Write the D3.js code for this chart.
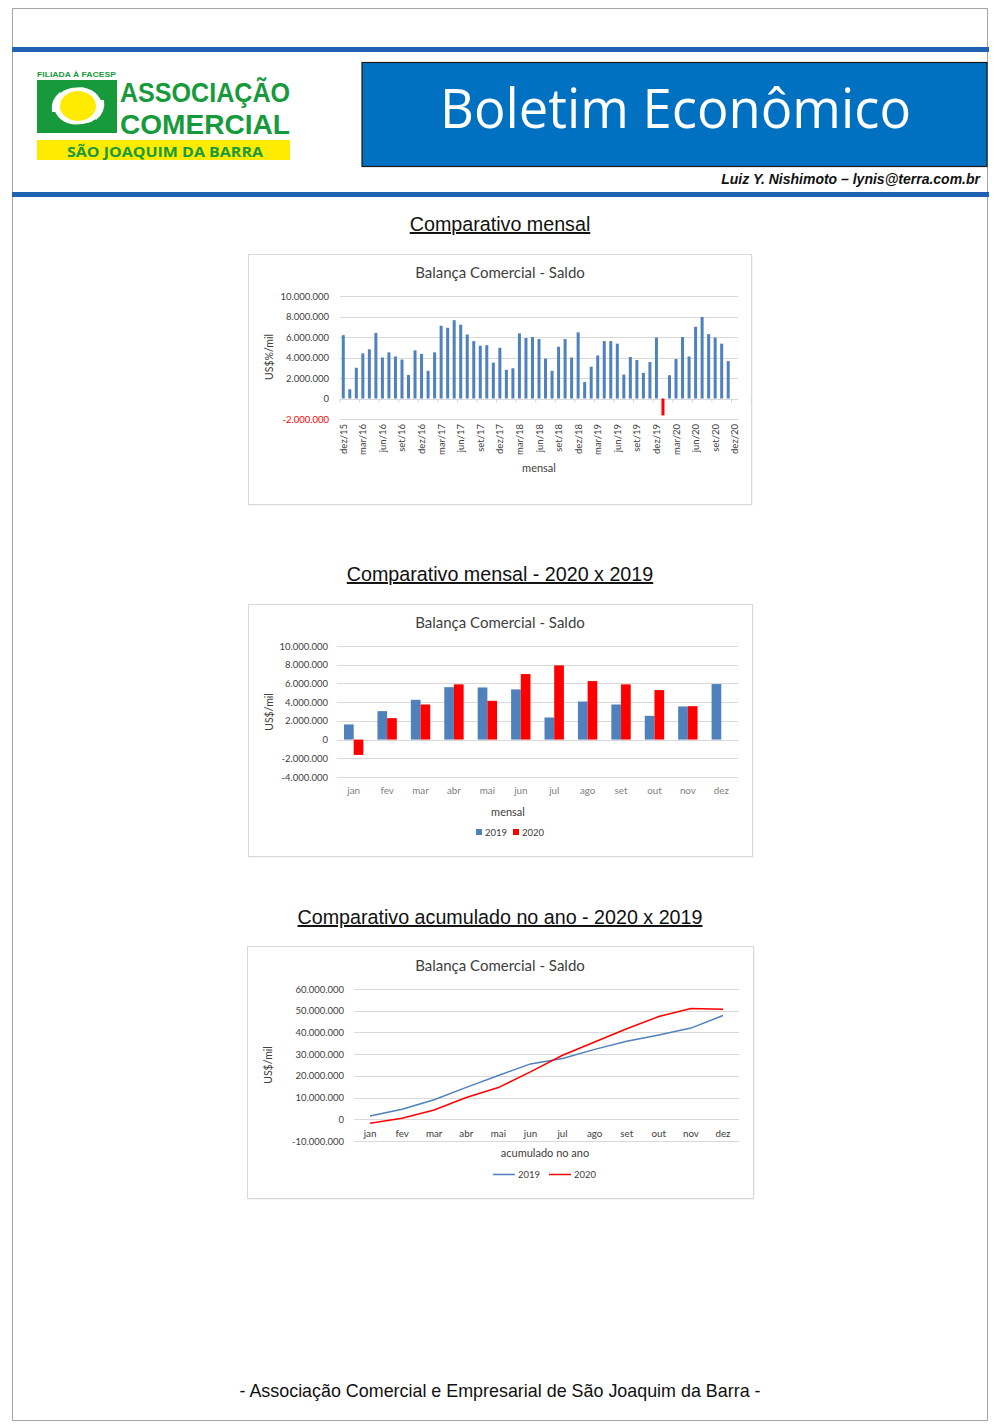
<!DOCTYPE html>
<html><head><meta charset="utf-8">
<script src="https://cdn.jsdelivr.net/npm/d3@7"></script>
<style>
body{margin:0;background:#fff;}
svg{display:block;}
</style></head>
<body>
<svg id="page" width="1000" height="1427"></svg>
<script>
// ---------- DATA ----------
const monthlyCategories = ["dez/15","jan/16","fev/16","mar/16","abr/16","mai/16","jun/16","jul/16","ago/16","set/16","out/16","nov/16","dez/16",
"jan/17","fev/17","mar/17","abr/17","mai/17","jun/17","jul/17","ago/17","set/17","out/17","nov/17","dez/17",
"jan/18","fev/18","mar/18","abr/18","mai/18","jun/18","jul/18","ago/18","set/18","out/18","nov/18","dez/18",
"jan/19","fev/19","mar/19","abr/19","mai/19","jun/19","jul/19","ago/19","set/19","out/19","nov/19","dez/19",
"jan/20","fev/20","mar/20","abr/20","mai/20","jun/20","jul/20","ago/20","set/20","out/20","nov/20","dez/20"];
const monthlySaldo = [6180000,
 900000,3000000,4400000,4800000,6400000,4000000,4500000,4100000,3800000,2300000,4700000,4350000,
 2700000,4500000,7100000,6900000,7640000,7200000,6250000,5600000,5150000,5200000,3500000,4950000,
 2800000,2950000,6350000,5900000,6000000,5800000,3900000,2700000,5050000,5800000,4000000,6450000,
 1600000,3100000,4200000,5600000,5600000,5350000,2330000,4050000,3750000,2500000,3550000,5950000,
 -1650000,2270000,3850000,6000000,4100000,7000000,7960000,6280000,5950000,5350000,3650000];
const monthlyTicks = [-2000000,0,2000000,4000000,6000000,8000000,10000000];

const months = ["jan","fev","mar","abr","mai","jun","jul","ago","set","out","nov","dez"];
const saldo2019 = [1620000,3040000,4250000,5600000,5570000,5360000,2360000,4070000,3750000,2540000,3540000,5930000];
const saldo2020 = [-1640000,2290000,3750000,5900000,4140000,7000000,7930000,6250000,5900000,5290000,3570000];
const compTicks = [-4000000,-2000000,0,2000000,4000000,6000000,8000000,10000000];

const acum2019 = [1500000,4600000,9000000,14700000,20200000,25500000,28000000,32200000,35900000,38800000,42000000,47800000];
const acum2020 = [-1800000,500000,4300000,10000000,14600000,21800000,29500000,35600000,41700000,47300000,51000000,50700000];
const acumTicks = [-10000000,0,10000000,20000000,30000000,40000000,50000000,60000000];

const seriesNames = ["2019","2020"];

// ---------- STYLE ----------
const BLUE = "#4f81bd", RED = "#ff0000", GRID = "#d9d9d9", TXT = "#595959";
const CHART_FONT = "Lato, 'Open Sans', sans-serif";
const ptBR = d3.formatLocale({decimal:",",thousands:".",grouping:[3],currency:["",""],minus:"-"});
const fmt = ptBR.format(",.0f");

const svg = d3.select("#page");

// ---------- PAGE FRAME & HEADER ----------
svg.append("rect").attr("x",12.5).attr("y",8.5).attr("width",975).attr("height",1412)
  .attr("fill","none").attr("stroke","#a6a6a6").attr("stroke-width",1);
svg.append("rect").attr("x",12).attr("y",47).attr("width",977).attr("height",5).attr("fill","#1f62b4");
svg.append("rect").attr("x",12).attr("y",192).attr("width",977).attr("height",5).attr("fill","#1f62b4");

// title box
svg.append("rect").attr("x",362).attr("y",62.5).attr("width",625).attr("height",104)
  .attr("fill","#0070c0").attr("stroke","#1a1a1a").attr("stroke-width",1.2);
svg.append("text").attr("x",440).attr("y",128).attr("fill","#fff")
  .attr("font-family","'Open Sans', Lato, sans-serif").attr("font-size",54)
  .attr("textLength",471).attr("lengthAdjust","spacingAndGlyphs").text("Boletim Econômico");
svg.append("text").attr("x",980).attr("y",184).attr("text-anchor","end")
  .attr("font-family","'Liberation Sans', Arial, sans-serif").attr("font-size",14)
  .attr("font-weight","bold").attr("font-style","italic").attr("fill","#111")
  .text("Luiz Y. Nishimoto – lynis@terra.com.br");

// logo
const G = "#179a3c", Y = "#ffeb00";
const logo = svg.append("g");
logo.append("text").attr("x",37).attr("y",77).attr("font-family","'Liberation Sans', Arial, sans-serif")
  .attr("font-size",8).attr("font-weight","bold").attr("fill",G)
  .attr("textLength",79).attr("lengthAdjust","spacingAndGlyphs").text("FILIADA À FACESP");
logo.append("rect").attr("x",37).attr("y",80).attr("width",80).attr("height",53).attr("fill",G);
logo.append("ellipse").attr("cx",78).attr("cy",106).attr("rx",24).attr("ry",19).attr("fill","#fff");
logo.append("ellipse").attr("cx",78).attr("cy",106).attr("rx",18).attr("ry",15).attr("fill",Y);
logo.append("path").attr("d","M40,92 Q60,78 92,84 L96,88 Q66,84 44,98 Z").attr("fill",G);
logo.append("path").attr("d","M114,120 Q94,134 62,128 L58,124 Q88,128 110,114 Z").attr("fill",G);
logo.append("path").attr("d","M52,112 Q50,100 60,92 L62,95 Q55,102 57,112 Z").attr("fill","#fff");
logo.append("path").attr("d","M104,100 Q106,112 96,120 L94,117 Q101,110 99,100 Z").attr("fill","#fff");
logo.append("text").attr("x",120).attr("y",102).attr("font-family","'Liberation Sans Narrow','Liberation Sans', Arial, sans-serif")
  .attr("font-size",28).attr("font-weight","bold").attr("fill",G)
  .attr("textLength",170).attr("lengthAdjust","spacingAndGlyphs").text("ASSOCIAÇÃO");
logo.append("text").attr("x",120).attr("y",134).attr("font-family","'Liberation Sans Narrow','Liberation Sans', Arial, sans-serif")
  .attr("font-size",28).attr("font-weight","bold").attr("fill",G)
  .attr("textLength",170).attr("lengthAdjust","spacingAndGlyphs").text("COMERCIAL");
logo.append("rect").attr("x",37).attr("y",140).attr("width",253).attr("height",20).attr("fill",Y);
logo.append("text").attr("x",67).attr("y",157).attr("font-family","'Open Sans', 'Liberation Sans', sans-serif")
  .attr("font-size",15).attr("font-weight","bold").attr("fill",G)
  .attr("textLength",196).attr("lengthAdjust","spacingAndGlyphs").text("SÃO JOAQUIM DA BARRA");

// section titles
function sectionTitle(txt, y){
  svg.append("text").attr("x",500).attr("y",y).attr("text-anchor","middle")
    .attr("font-family","'Liberation Sans', Arial, sans-serif").attr("font-size",19.7).attr("fill","#111")
    .attr("text-decoration","underline").text(txt);
}
sectionTitle("Comparativo mensal",231);
sectionTitle("Comparativo mensal - 2020 x 2019",581);
sectionTitle("Comparativo acumulado no ano - 2020 x 2019",924);

svg.append("text").attr("x",500).attr("y",1397).attr("text-anchor","middle")
  .attr("font-family","'Liberation Sans', Arial, sans-serif").attr("font-size",17.9).attr("fill","#111")
  .text("- Associação Comercial e Empresarial de São Joaquim da Barra -");

// ---------- CHART HELPERS ----------
function chartBox(x,y,w,h){
  svg.append("rect").attr("x",x+1.5).attr("y",y+1.5).attr("width",w).attr("height",h).attr("fill","#ececec");
  svg.append("rect").attr("x",x+0.5).attr("y",y+0.5).attr("width",w).attr("height",h)
    .attr("fill","#fff").attr("stroke","#d9d9d9");
}
function chartText(x,y,txt,size,opts={}){
  const t = svg.append("text").attr("x",x).attr("y",y).attr("font-family",CHART_FONT)
    .attr("font-size",size).attr("fill",opts.fill||TXT).attr("text-anchor",opts.anchor||"middle").text(txt);
  if(opts.rotate) t.attr("transform",`rotate(${opts.rotate},${x},${y})`);
  return t;
}
function yGrid(g, yScale, ticks, x0, x1, labelX, colorFn){
  const ax = d3.axisLeft(yScale).tickValues(ticks).tickSize(0).tickFormat(fmt);
  const a = g.append("g").attr("transform",`translate(${labelX},0)`).call(ax);
  a.select(".domain").remove();
  a.selectAll("text").attr("font-family",CHART_FONT).attr("font-size",9.5).attr("dx",0).attr("x",0)
    .attr("fill",d=>colorFn?colorFn(d):"#404040");
  g.append("g").selectAll("line").data(ticks).join("line")
    .attr("x1",x0).attr("x2",x1).attr("y1",d=>Math.round(yScale(d))+0.5).attr("y2",d=>Math.round(yScale(d))+0.5)
    .attr("stroke",GRID).attr("stroke-width",1);
}

// ---------- CHART 1: monthly ----------
(function(){
  chartBox(248,254,503,250);
  const g = svg.append("g");
  const x = d3.scaleBand().domain(monthlyCategories).range([340,738]).paddingInner(0.54).paddingOuter(0.27);
  const y = d3.scaleLinear().domain([-2000000,10000000]).range([419,296]);
  yGrid(g, y, monthlyTicks, 340, 738, 329, d=>d<0?"#ff0000":"#404040");
  const step = x.step();
  g.append("g").selectAll("line").data(monthlyCategories.filter((d,i)=>i%3===0).concat(["__end"])).join("line")
    .attr("x1",(d,i)=>340+i*3*step).attr("x2",(d,i)=>340+i*3*step)
    .attr("y1",y(0)).attr("y2",y(0)+4).attr("stroke",GRID);
  g.append("g").selectAll("rect").data(monthlySaldo).join("rect")
    .attr("x",(d,i)=>x(monthlyCategories[i]))
    .attr("width",x.bandwidth())
    .attr("y",d=>y(Math.max(0,d)))
    .attr("height",d=>Math.abs(y(d)-y(0)))
    .attr("fill",d=>d<0?RED:BLUE);
  const lab = monthlyCategories.filter((d,i)=>i%3===0);
  g.append("g").selectAll("text").data(lab).join("text")
    .attr("transform",d=>`translate(${x(d)+x.bandwidth()/2+3.5},424) rotate(-90)`)
    .attr("text-anchor","end").attr("font-family",CHART_FONT).attr("font-size",9.5).attr("fill","#404040")
    .text(d=>d);
  chartText(500,278,"Balança Comercial - Saldo",15,{fill:"#404040"});
  chartText(539,472,"mensal",11,{fill:"#404040"});
  chartText(273,357,"US$%/mil",10.5,{fill:"#404040",rotate:-90});
})();

// ---------- CHART 2: 2020 x 2019 monthly ----------
(function(){
  chartBox(248,604,504,252);
  const g = svg.append("g");
  const x = d3.scaleBand().domain(months).range([337,738]);
  const step = x.step(), bw = step*0.29;
  const y = d3.scaleLinear().domain([-4000000,10000000]).range([777,646]);
  yGrid(g, y, compTicks, 337, 738, 328);
  const data = [saldo2019, saldo2020];
  const colors = [BLUE, RED];
  data.forEach((s,si)=>{
    g.append("g").selectAll("rect").data(s).join("rect")
      .attr("x",(d,i)=>x(months[i])+step/2-bw+si*bw)
      .attr("width",bw)
      .attr("y",d=>y(Math.max(0,d)))
      .attr("height",d=>Math.abs(y(d)-y(0)))
      .attr("fill",colors[si]);
  });
  g.append("g").selectAll("text").data(months).join("text")
    .attr("x",d=>x(d)+step/2).attr("y",794).attr("text-anchor","middle")
    .attr("font-family",CHART_FONT).attr("font-size",9.8).attr("fill","#7f7f7f").text(d=>d);
  chartText(500,628,"Balança Comercial - Saldo",15,{fill:"#404040"});
  chartText(508,816,"mensal",11,{fill:"#404040"});
  chartText(273,712,"US$/mil",10.5,{fill:"#404040",rotate:-90});
  const leg = [[476,485],[513,522]];
  seriesNames.forEach((n,i)=>{
    g.append("rect").attr("x",leg[i][0]).attr("y",829).attr("width",6).attr("height",6).attr("fill",colors[i]);
    g.append("text").attr("x",leg[i][1]).attr("y",835.5).attr("font-family",CHART_FONT).attr("font-size",9.5)
      .attr("fill","#404040").text(n);
  });
})();

// ---------- CHART 3: cumulative ----------
(function(){
  chartBox(247,946,506,252);
  const g = svg.append("g");
  const x = d3.scalePoint().domain(months).range([370,723]);
  const y = d3.scaleLinear().domain([-10000000,60000000]).range([1141,989]);
  yGrid(g, y, acumTicks, 354, 739, 344);
  const line = d3.line().x((d,i)=>x(months[i])).y(d=>y(d));
  const data = [acum2019, acum2020], colors = [BLUE, RED];
  data.forEach((s,si)=>{
    g.append("path").datum(s).attr("d",line).attr("fill","none").attr("stroke",colors[si]).attr("stroke-width",1.5);
  });
  g.append("g").selectAll("text").data(months).join("text")
    .attr("x",d=>x(d)).attr("y",1137).attr("text-anchor","middle")
    .attr("font-family",CHART_FONT).attr("font-size",9.8).attr("fill","#404040").text(d=>d);
  chartText(500,971,"Balança Comercial - Saldo",15,{fill:"#404040"});
  chartText(545,1157,"acumulado no ano",11,{fill:"#404040"});
  chartText(272,1065,"US$/mil",10.5,{fill:"#404040",rotate:-90});
  const leg = [[493,518],[549,574]];
  seriesNames.forEach((n,i)=>{
    g.append("line").attr("x1",leg[i][0]).attr("x2",leg[i][0]+22).attr("y1",1174.5).attr("y2",1174.5)
      .attr("stroke",colors[i]).attr("stroke-width",1.5);
    g.append("text").attr("x",leg[i][1]).attr("y",1178).attr("font-family",CHART_FONT).attr("font-size",9.5)
      .attr("fill","#404040").text(n);
  });
})();
</script>
</body></html>
